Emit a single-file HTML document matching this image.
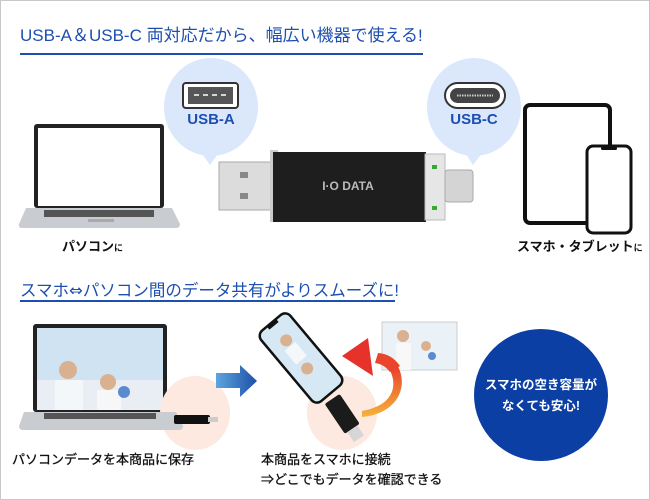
<!DOCTYPE html>
<html><head><meta charset="utf-8">
<style>
*{margin:0;padding:0;box-sizing:border-box}
body{width:650px;height:500px;background:#fff;position:relative;overflow:hidden;font-family:"Liberation Sans","Noto Sans CJK JP",sans-serif}
#frame{position:absolute;left:0;top:0;width:650px;height:500px;border:1px solid #c8c8c8}
.a{position:absolute}
.t{position:absolute;color:#1d4fb0;font-size:17px;white-space:nowrap;letter-spacing:0px}
.lbl{position:absolute;color:#111;font-size:13px;font-weight:bold;white-space:nowrap}
</style></head><body>
<div id="frame"></div>
<div class="t" style="left:20px;top:21px">USB-A＆USB-C 両対応だから、幅広い機器で使える!</div>
<div class="a" style="left:20px;top:53px;width:403px;height:2px;background:#1d4fb0"></div>

<svg class="a" style="left:0;top:0" width="650" height="500">
 <ellipse cx="211" cy="107" rx="47" ry="49" fill="#dbe8fb"/>
 <polygon points="198,148 222,148 210,165" fill="#dbe8fb"/>
 <ellipse cx="474" cy="107" rx="47" ry="49" fill="#dbe8fb"/>
 <polygon points="462,148 486,148 473,165" fill="#dbe8fb"/>
 <rect x="183" y="83" width="55" height="25" rx="3" fill="#fff" stroke="#333" stroke-width="2"/>
 <rect x="188" y="87" width="45" height="17" fill="#555"/>
 <g stroke="#fff" stroke-width="1.5"><line x1="194" y1="95" x2="199" y2="95"/><line x1="203" y1="95" x2="208" y2="95"/><line x1="212" y1="95" x2="217" y2="95"/><line x1="221" y1="95" x2="226" y2="95"/></g>
 <rect x="445" y="83" width="60" height="25" rx="12.5" fill="#fff" stroke="#333" stroke-width="2"/>
 <rect x="450" y="88" width="50" height="15" rx="7.5" fill="#444"/>
 <line x1="457" y1="95.5" x2="493" y2="95.5" stroke="#ccc" stroke-width="2" stroke-dasharray="1.5,1"/>
 <rect x="34" y="124" width="130" height="84" rx="3" fill="#222"/>
 <rect x="38" y="128" width="122" height="78" fill="#fff"/>
 <path d="M26 208 L172 208 L180 224 Q180 228 176 228 L22 228 Q18 228 19 224 Z" fill="#c9ccd0"/>
 <rect x="44" y="210" width="110" height="7" fill="#555"/>
 <rect x="88" y="219" width="26" height="3" fill="#aaa"/>
 <rect x="219" y="162" width="54" height="48" fill="#dcdcdc"/>
 <rect x="219" y="162" width="54" height="48" fill="none" stroke="#aaa"/>
 <rect x="240" y="172" width="8" height="6" fill="#888"/><rect x="240" y="193" width="8" height="6" fill="#888"/>
 <rect x="270" y="150" width="8" height="72" fill="#ccc"/>
 <rect x="273" y="152" width="153" height="70" fill="#1e1e1e"/>
 <rect x="425" y="154" width="20" height="66" fill="#e6e6e6" stroke="#bbb"/>
 <rect x="432" y="165" width="5" height="4" fill="#3a3"/><rect x="432" y="206" width="5" height="4" fill="#3a3"/>
 <rect x="445" y="170" width="28" height="32" rx="3" fill="#d4d4d4" stroke="#aaa"/>
 <text x="348" y="190" fill="#bbb" font-size="12" font-weight="bold" text-anchor="middle" font-family="Liberation Sans">I·O DATA</text>
 <rect x="525" y="105" width="85" height="118" rx="5" fill="#fff" stroke="#111" stroke-width="4"/>
 <rect x="587" y="146" width="44" height="87" rx="6" fill="#fff" stroke="#111" stroke-width="3"/>
 <rect x="601" y="147" width="16" height="3" rx="1.5" fill="#111"/>

 <rect x="33" y="324" width="134" height="88" rx="3" fill="#222"/>
 <rect x="37" y="328" width="126" height="82" fill="#cfe3f2"/>
 <rect x="37" y="380" width="126" height="30" fill="#e8eef3"/>
 <circle cx="68" cy="370" r="9" fill="#d9b090"/><rect x="55" y="380" width="28" height="30" fill="#f4f7fa"/>
 <circle cx="108" cy="382" r="8" fill="#d9b090"/><rect x="97" y="390" width="24" height="20" fill="#f7f7f7"/>
 <circle cx="124" cy="392" r="6" fill="#5a8ad0"/>
 <ellipse cx="195" cy="413" rx="35" ry="37" fill="#fde9df"/>
 <path d="M24 412 L176 412 L183 426 Q183 430 179 430 L23 430 Q19 430 19 426 Z" fill="#c9ccd0"/>
 <rect x="44" y="413" width="112" height="6" fill="#555"/>
 <rect x="174" y="415" width="36" height="9" rx="2" fill="#111"/><rect x="208" y="417" width="10" height="5" fill="#ccc"/>
 <ellipse cx="342" cy="413" rx="35" ry="37" fill="#fde9df"/>
 <defs>
  <linearGradient id="bg" x1="0" x2="1"><stop offset="0" stop-color="#5ea6df"/><stop offset="1" stop-color="#1d4fa8"/></linearGradient>
  <linearGradient id="og" x1="0" y1="1" x2="0" y2="0"><stop offset="0" stop-color="#f5b43a"/><stop offset="1" stop-color="#e6322a"/></linearGradient>
 </defs>
 <polygon points="216,373 240,373 240,365 257,381 240,397 240,388 216,388" fill="url(#bg)"/>
 <g transform="rotate(-34 345 418)">
  <rect x="336" y="395" width="18" height="36" rx="2" fill="#1b1b1b"/>
  <rect x="339" y="431" width="12" height="12" fill="#d6d6d6"/>
 </g>
 <g transform="rotate(-40 301 358)">
  <rect x="282" y="312" width="38" height="92" rx="7" fill="#d6e8f4" stroke="#111" stroke-width="2.5"/>
  <circle cx="301" cy="335" r="6" fill="#d9b090"/><circle cx="299" cy="370" r="6" fill="#d9b090"/>
  <rect x="293" y="342" width="14" height="18" fill="#f5f8fb"/>
  <rect x="295" y="313" width="12" height="3" fill="#111"/>
 </g>
 <rect x="382" y="322" width="75" height="48" fill="#eaf2f8" stroke="#ccc"/>
 <circle cx="403" cy="336" r="6" fill="#d9b090"/><rect x="396" y="343" width="15" height="27" fill="#f8f8f8"/>
 <circle cx="426" cy="346" r="5" fill="#d9b090"/><circle cx="432" cy="356" r="4" fill="#5a8ad0"/>
 <path d="M362 417 C398 414 412 384 394 360 L388 367 C400 386 392 406 362 411 Z" fill="url(#og)"/>
 <path d="M378 353 Q392 354 400 366 L390 372 Q384 364 375 363 Z" fill="#e8452c"/>
 <polygon points="342,356 368,338 373,376" fill="#e6322a"/>
 <ellipse cx="541" cy="395" rx="67" ry="66" fill="#0c3fa3"/>
 <text x="541" y="389" fill="#fff" font-size="12.5" font-weight="bold" text-anchor="middle" font-family="Liberation Sans,Noto Sans CJK JP,sans-serif">スマホの空き容量が</text>
 <text x="541" y="410" fill="#fff" font-size="12.5" font-weight="bold" text-anchor="middle" font-family="Liberation Sans,Noto Sans CJK JP,sans-serif">なくても安心!</text>
</svg>

<div class="a" style="left:164px;top:111px;width:94px;text-align:center;color:#1d4fb0;font-weight:bold;font-size:15px">USB-A</div>
<div class="a" style="left:427px;top:111px;width:94px;text-align:center;color:#1d4fb0;font-weight:bold;font-size:15px">USB-C</div>
<div class="lbl" style="left:62px;top:236px">パソコン<span style="font-size:9px">に</span></div>
<div class="lbl" style="left:517px;top:236px">スマホ・タブレット<span style="font-size:9px">に</span></div>

<div class="t" style="left:20px;top:277px;font-size:16.5px">スマホ<span style="font-family:'DejaVu Sans',sans-serif">⇔</span>パソコン間のデータ共有がよりスムーズに!</div>
<div class="a" style="left:20px;top:300px;width:375px;height:2px;background:#1d4fb0"></div>

<div class="lbl" style="left:12px;top:449px;font-weight:normal;-webkit-text-stroke:0.3px #111">パソコンデータを本商品に保存</div>
<div class="lbl" style="left:261px;top:449px;font-weight:normal;-webkit-text-stroke:0.3px #111">本商品をスマホに接続</div>
<div class="lbl" style="left:261px;top:469px;font-weight:normal;-webkit-text-stroke:0.3px #111">⇒どこでもデータを確認できる</div>
</body></html>
